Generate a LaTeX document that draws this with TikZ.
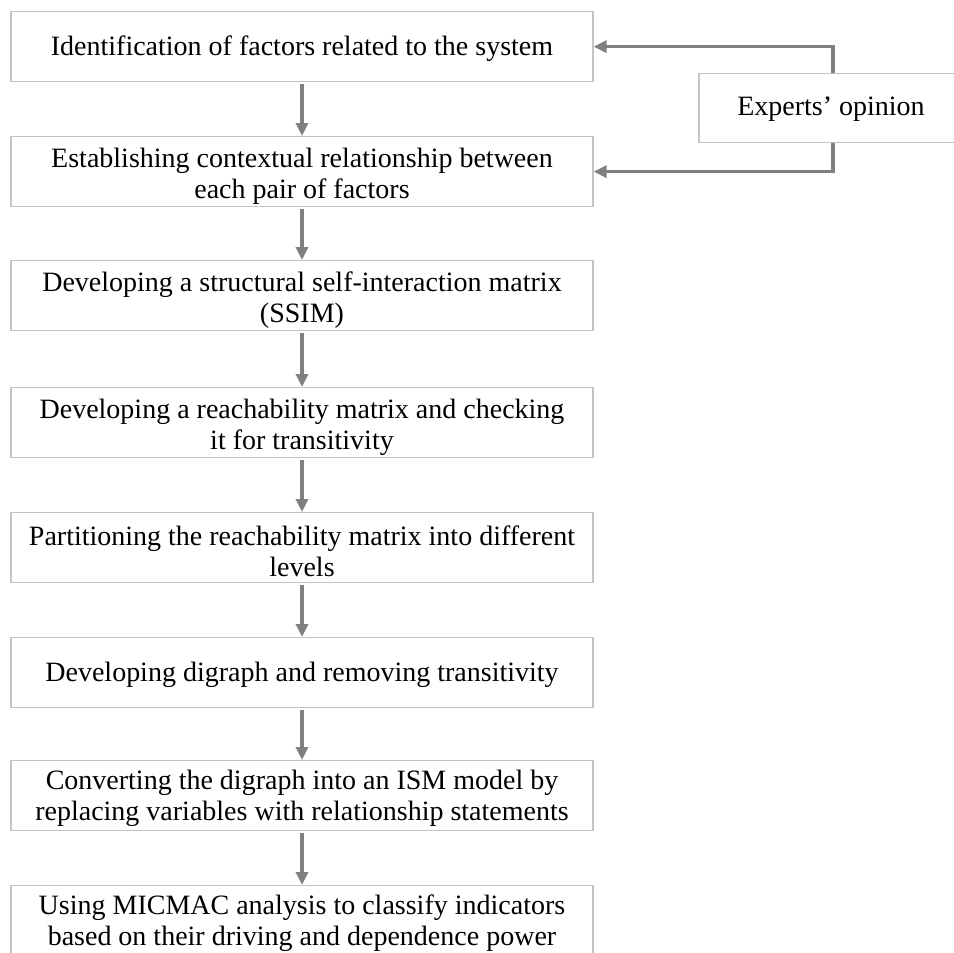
\documentclass[tikz,border=0pt]{standalone}
\usepackage{fontspec}
\setmainfont{Liberation Serif}
\usetikzlibrary{arrows.meta}
\definecolor{boxgray}{HTML}{C4C4C4}
\definecolor{arrowgray}{HTML}{808080}
\begin{document}
\begin{tikzpicture}[x=1pt,y=-1pt,
  stepbox/.style={draw=boxgray, line width=1.3pt, fill=white,
    minimum width=582pt, minimum height=70pt, anchor=north, inner sep=0pt},
  steptext/.style={align=center, inner sep=0pt,
    font=\fontsize{28}{31}\selectfont},
  flow/.style={draw=arrowgray, line width=3.4pt,
    -{Triangle[length=13pt,width=12pt]}},
]
\useasboundingbox (0,0) rectangle (954,953);

% frames of the main sequence of steps
\node[stepbox] (s1) at (302,11)  {};
\node[stepbox] (s2) at (302,136) {};
\node[stepbox] (s3) at (302,260) {};
\node[stepbox] (s4) at (302,387) {};
\node[stepbox] (s5) at (302,512) {};
\node[stepbox] (s6) at (302,637) {};
\node[stepbox] (s7) at (302,760) {};
\node[stepbox] (s8) at (302,885) {};

% step labels
\node[steptext] (t1) at ([yshift=-2pt]s1.center) {Identification of factors related to the system};
\node[steptext] (t2) at ([yshift=-4.5pt]s2.center) {Establishing contextual relationship between\\each pair of factors};
\node[steptext] (t3) at ([yshift=-4.5pt]s3.center) {Developing a structural self-interaction matrix\\(SSIM)};
\node[steptext] (t4) at ([yshift=-4.5pt]s4.center) {Developing a reachability matrix and checking\\it for transitivity};
\node[steptext] (t5) at ([yshift=-4pt]s5.center) {Partitioning the reachability matrix into different\\levels};
\node[steptext] (t6) at ([yshift=-2pt]s6.center) {Developing digraph and removing transitivity};
\node[steptext] (t7) at ([yshift=-3pt]s7.center) {Converting the digraph into an ISM model by\\replacing variables with relationship statements};
\node[steptext] (t8) at ([yshift=-2.5pt]s8.center) {Using MICMAC analysis to classify indicators\\based on their driving and dependence power};

% expert input box, running off the right edge
\node[stepbox, minimum width=262pt, minimum height=69pt] (ex) at (830,73) {};
\node[steptext] (tx) at ([xshift=1pt,yshift=-1.5pt]ex.center) {Experts' opinion};

% downward flow
\foreach \a/\b in {s1/s2,s2/s3,s3/s4,s4/s5,s5/s6,s6/s7,s7/s8}
  \draw[flow] ([yshift=-2pt]\a.south) -- (\b.north);

% feedback from the experts
\coordinate (fb) at (833,0);
\draw[flow] (ex.north -| fb) |- (s1.east);
\draw[flow] (ex.south -| fb) |- (s2.east);
\end{tikzpicture}
\end{document}
